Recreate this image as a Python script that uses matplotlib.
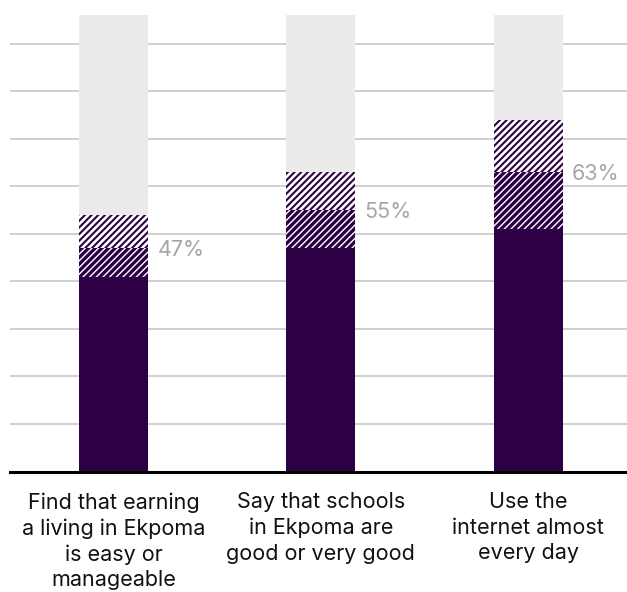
import matplotlib
matplotlib.use("Agg")
import matplotlib.pyplot as plt
import numpy as np

plt.rcParams['font.family'] = ['Inter', 'DejaVu Sans']
plt.rcParams['hatch.linewidth'] = 1.0

# data (percent)
categories = ["Find that earning\na living in Ekpoma\nis easy or\nmanageable",
              "Say that schools\nin Ekpoma are\ngood or very good",
              "Use the\ninternet almost\nevery day"]
solid = [41, 47, 51]        # point estimate, lower part
dense = [6, 8, 12]          # up to the headline value
light = [7, 8, 11]          # upper range
background = [96, 96, 96]
labels = ["47%", "55%", "63%"]

PURPLE = "#2d0046"
GREY_BG = "#ebebeb"
GRID = "#c8c8c8"
LABEL_GREY = "#a6a6a6"

fig = plt.figure(figsize=(6.27, 5.92), dpi=100)
ax = fig.add_axes([10/627, 120.5/592, 617/627, 471.5/592])

x = np.arange(len(categories))
w = 0.333

for y in range(10, 100, 10):
    ax.axhline(y, color=GRID, lw=1.2, zorder=0)

ax.bar(x, background, width=w, color=GREY_BG, lw=0, zorder=1)
ax.bar(x, solid, width=w, color=PURPLE, lw=0, zorder=2)
bottom2 = np.array(solid)
ax.bar(x, dense, width=w, bottom=bottom2, facecolor=PURPLE, edgecolor="white",
       hatch="/////", lw=0, zorder=2)
bottom3 = bottom2 + np.array(dense)
# upper band: thicker purple stripes on white
plt.rcParams['hatch.linewidth'] = 1.5
ax.bar(x, light, width=w, bottom=bottom3, facecolor="white", edgecolor=PURPLE,
       hatch="/////", lw=0, zorder=2)

for i, lab in enumerate(labels):
    ax.text(x[i] + w/2 + 0.045, bottom3[i] - 0.4, lab, color=LABEL_GREY,
            fontsize=15.5, va="center", ha="left", zorder=3)

ax.set_xlim(-0.499, 2.477)
ax.set_ylim(0, 99.2)
ax.axhline(0, color="black", lw=2.2, zorder=4, clip_on=False)

ax.set_xticks(x)
ax.set_xticklabels(categories, fontsize=15.5, linespacing=1.33, color="#111111")
ax.tick_params(axis="x", length=0, pad=15)
ax.set_yticks([])
for s in ax.spines.values():
    s.set_visible(False)

fig.savefig("out.png", dpi=100)
